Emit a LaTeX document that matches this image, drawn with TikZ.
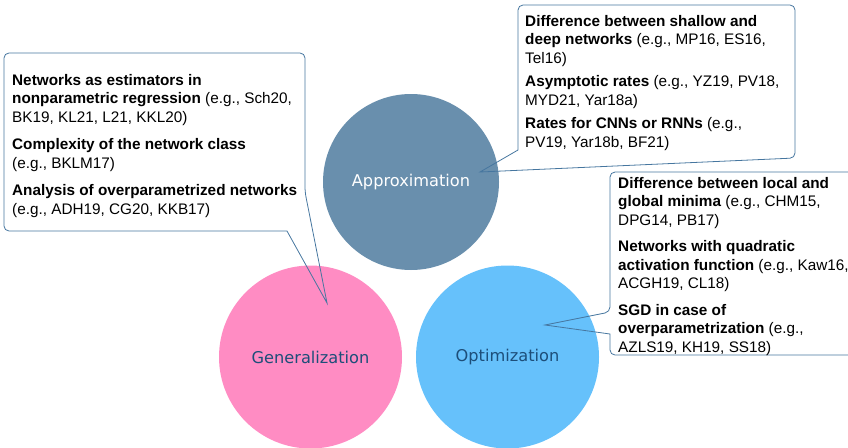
\documentclass[tikz,border=0pt]{standalone}
\usepackage{fontspec}
\setmainfont{Liberation Sans}
\newfontfamily\circfont{DejaVu Sans}
\usetikzlibrary{positioning}

\definecolor{approxcol}{HTML}{698FAD}
\definecolor{gencol}{HTML}{FF8CC3}
\definecolor{optcol}{HTML}{66C1FB}
\definecolor{labelcol}{HTML}{1D4E79}
\definecolor{linecol}{HTML}{46769F}

\tikzset{
  area/.style={circle, minimum size=#1, inner sep=0pt, font=\circfont\fontsize{16.2}{19}\selectfont},
  callout/.style={draw=linecol, line width=0.8pt},
  refs/.style={anchor=north west, inner sep=0pt, align=left, font=\fontsize{15.3}{18.5}\selectfont},
}

\begin{document}
\begin{tikzpicture}[x=1pt, y=-1pt]
\clip (0,0) rectangle (848,447);

% drei Bereiche
\node[area=176pt, fill=approxcol, text=white] (approx) at (411,182) {Approximation};
\node[area=183pt, fill=gencol, text=labelcol] (general) at (310.5,357) {Generalization};
\node[area=183pt, fill=optcol, text=labelcol] (optim) at (507.5,357) {Optimization};

% Spitzen der Sprechblasen
\coordinate (gentip) at (327,303);
\coordinate (approxtip) at (480,172);
\coordinate (opttip) at (545,325);

% Generalisierung (links)
\draw[callout] (150,53) [rounded corners=5pt] -- (305,53) -- (305,192) [sharp corners] -- (gentip) -- (287,231) [rounded corners=5pt] -- (4,231) -- (4,53) -- cycle;
\node[refs] (gentext) at (12,74) {%
  \textbf{Networks as estimators in}\\
  \textbf{nonparametric regression} (e.g., Sch20,\\
  BK19, KL21, L21, KKL20)\\[9pt]
  \textbf{Complexity of the network class}\\
  (e.g., BKLM17)\\[9pt]
  \textbf{Analysis of overparametrized networks}\\
  (e.g., ADH19, CG20, KKB17)};

% Approximation (oben rechts)
\draw[callout] (650,5) [rounded corners=5pt] -- (795,5) -- (795,158) [sharp corners] -- (approxtip) -- (518,150) [rounded corners=5pt] -- (518,5) -- cycle;
\node[refs] (approxtext) at (525,15) {%
  \textbf{Difference between shallow and}\\
  \textbf{deep networks} (e.g., MP16, ES16,\\
  Tel16)\\[5pt]
  \textbf{Asymptotic rates} (e.g., YZ19, PV18,\\
  MYD21, Yar18a)\\[5pt]
  \textbf{Rates for CNNs or RNNs} (e.g.,\\
  PV19, Yar18b, BF21)};

% Optimierung (unten rechts)
\draw[callout] (610,334) [rounded corners=5pt] -- (610,355) -- (870,355) -- (870,172) -- (610,172) -- (610,312) [sharp corners] -- (opttip) -- cycle;
\node[refs] (opttext) at (618,177) {%
  \textbf{Difference between local and}\\
  \textbf{global minima} (e.g., CHM15,\\
  DPG14, PB17)\\[8pt]
  \textbf{Networks with quadratic}\\
  \textbf{activation function} (e.g., Kaw16,\\
  ACGH19, CL18)\\[8pt]
  \textbf{SGD in case of}\\
  \textbf{overparametrization} (e.g.,\\
  AZLS19, KH19, SS18)};

\end{tikzpicture}
\end{document}
